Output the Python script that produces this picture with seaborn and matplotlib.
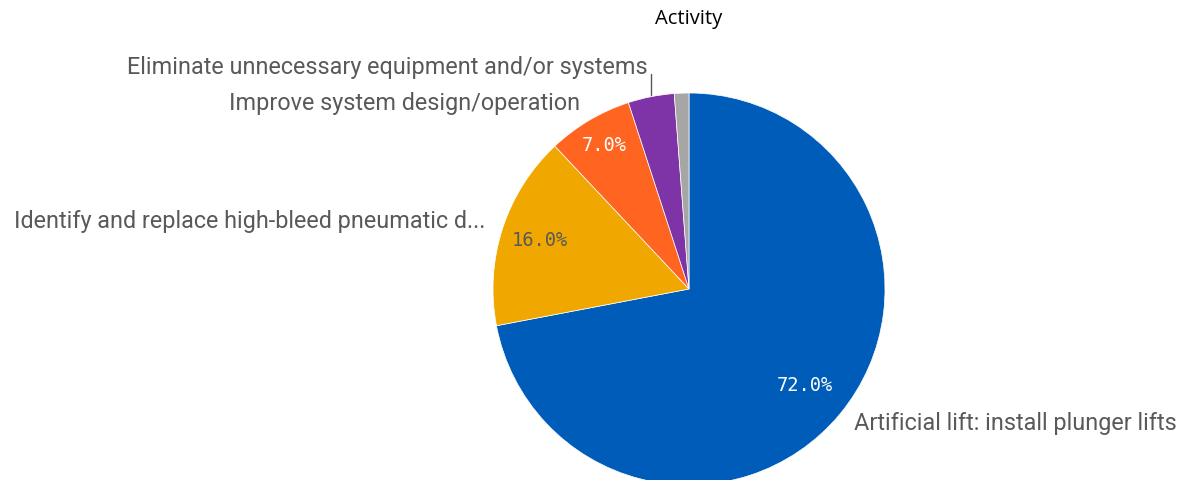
import numpy as np
import matplotlib
matplotlib.use("Agg")
import matplotlib.pyplot as plt
import seaborn as sb

# data
activities = [
    "Artificial lift: install plunger lifts",
    "Identify and replace high-bleed pneumatic d...",
    "Improve system design/operation",
    "Eliminate unnecessary equipment and/or systems",
    "Other",
]
shares = [72.0, 16.0, 7.0, 3.8, 1.2]
show_label = [True, True, True, True, False]
show_pct = [True, True, True, False, False]
colors = ["#005cb9", "#f0a800", "#ff6420", "#7e33a6", "#a6a6a6"]
pct_colors = ["white", "#595959", "white", "white", "white"]

sb.set_theme(style="white")
plt.rcParams["font.family"] = ["Roboto", "DejaVu Sans"]

W, H = 1180, 480
fig = plt.figure(figsize=(W / 100, H / 100), dpi=100)
ax = fig.add_axes([0, 0, 1, 1])

cx, cy, R = 689, H - 289, 196
wedges, _ = ax.pie(
    shares, colors=colors, startangle=90, counterclock=False,
    center=(cx, cy), radius=R, frame=True,
    wedgeprops=dict(linewidth=0.5, edgecolor="white"),
)
ax.set_xlim(0, W)
ax.set_ylim(0, H)
ax.set_aspect("equal")
ax.axis("off")

pct_dist = [0.77, 0.80, 0.85, 0.8, 0.8]
for w, v, sp, pc, d in zip(wedges, shares, show_pct, pct_colors, pct_dist):
    if not sp:
        continue
    a = np.deg2rad((w.theta1 + w.theta2) / 2)
    ax.text(cx + d * R * np.cos(a), cy + d * R * np.sin(a), f"{v:.1f}%",
            ha="center", va="center", color=pc, fontsize=13.5,
            family="DejaVu Sans Mono")

for w, name, sl in zip(wedges, activities, show_label):
    if not sl:
        continue
    a = np.deg2rad((w.theta1 + w.theta2) / 2)
    x, y = np.cos(a), np.sin(a)
    ha = "left" if x > 0 else "right"
    if abs(x) < 0.25:
        # small slice near the top: leader line upward
        x0, y0 = cx + R * 1.01 * x, cy + R * 1.01 * y
        ax.plot([x0, x0], [y0, y0 + 21], color="#595959", lw=1)
        ax.text(x0 - 3, y0 + 30, name, ha="right", va="center_baseline",
                color="#595959", fontsize=16.8)
    else:
        ax.text(cx + 1.09 * R * x, cy + 1.09 * R * y + 4, name, ha=ha,
                va="center_baseline", color="#595959", fontsize=16.8)

fig.text(689 / W, 1 - 19 / H, "Activity", ha="center", va="center",
         color="black", fontsize=14.5, family=["Open Sans", "DejaVu Sans"])

fig.savefig("out.png", dpi=100)
